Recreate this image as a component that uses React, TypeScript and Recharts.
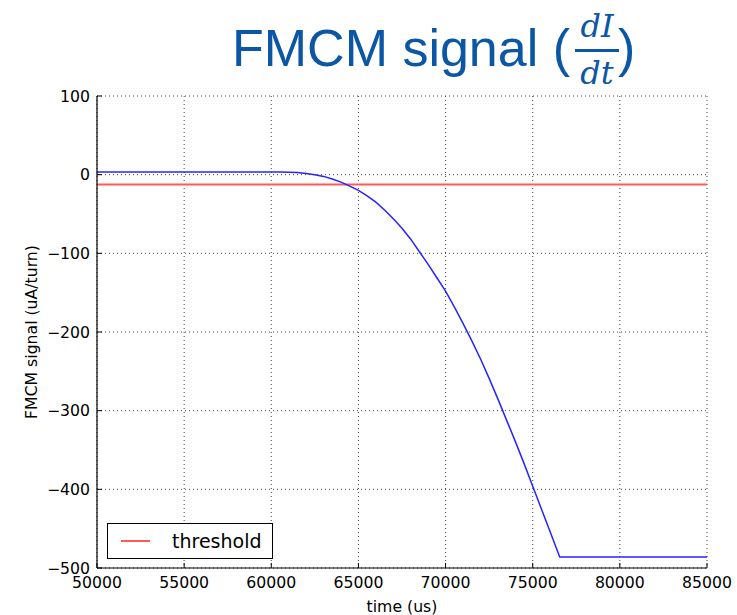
import React from 'react';
import { LineChart, Line, XAxis, YAxis, CartesianGrid, Legend } from 'recharts';

const times = [50000, 55000, 60000, 60500, 61000, 61500, 62000, 62500, 63000, 63500, 64000, 64500, 65000, 65500, 66000, 66500, 67000, 67500, 68000, 68500, 69000, 69500, 70000, 70500, 71000, 71500, 72000, 72500, 73000, 73500, 74000, 74500, 75000, 75500, 76000, 76550, 80000, 85000];
const signal = [3.5, 3.5, 3.5, 3.4, 3.1, 2.6, 1.6, 0, -2.2, -5.5, -9.5, -14.5, -20, -27, -35, -45, -56, -68, -82, -98, -114, -131, -148, -168, -189, -211, -234, -259, -285, -312, -339, -367, -396, -425, -454, -486, -486, -486];
const thresholdValue = -12.5;
const xTicks = [50000, 55000, 60000, 65000, 70000, 75000, 80000, 85000];
const yTicks = [-500, -400, -300, -200, -100, 0, 100];
const legendLabel = 'threshold';
const titleMain = 'FMCM signal (';
const titleNum = 'dI';
const titleDen = 'dt';
const xLabel = 'time (us)';
const yLabel = 'FMCM signal (uA/turn)';

const data = times.map((t, i) => ({ t, signal: signal[i], threshold: thresholdValue }));

const FONT = '"DejaVu Sans", sans-serif';
const fmt = (v: number) => String(v).replace('-', '\u2212');
const tickStyle = { fontFamily: FONT, fontSize: 15.7, fill: '#000' };
const TITLE_COLOR = '#0b57a6';

const LegendBox = () => (
  <div style={{ width: 164, height: 34, border: '1px solid #000', background: '#fff', display: 'flex', alignItems: 'center', boxSizing: 'content-box' }}>
    <svg width={64} height={34}>
      <line x1={13} x2={42} y1={17} y2={17} stroke="#ff5a5a" strokeWidth={2} />
    </svg>
    <span style={{ fontFamily: FONT, fontSize: 19, color: '#000', marginTop: -1 }}>{legendLabel}</span>
  </div>
);

export default function App() {
  return (
    <div style={{ position: 'absolute', left: 0, top: 0, width: 737, height: 615, background: '#fff' }}>
      <svg width={737} height={100} style={{ position: 'absolute', left: 0, top: 0 }}>
        <text x={232} y={66} fontFamily='"Liberation Sans", Arial, sans-serif' fontSize={52} fill={TITLE_COLOR}>{titleMain}</text>
        <text x={597} y={37} textAnchor="middle" fontFamily='"DejaVu Serif", serif' fontStyle="italic" fontSize={32} fill={TITLE_COLOR}>{titleNum}</text>
        <line x1={575} x2={619} y1={50.5} y2={50.5} stroke={TITLE_COLOR} strokeWidth={3} />
        <text x={597} y={84} textAnchor="middle" fontFamily='"DejaVu Serif", serif' fontStyle="italic" fontSize={32} fill={TITLE_COLOR}>{titleDen}</text>
        <text x={618} y={66} fontFamily='"Liberation Sans", Arial, sans-serif' fontSize={52} fill={TITLE_COLOR}>)</text>
      </svg>
      <LineChart width={737} height={615} data={data} margin={{ top: 96, right: 30, bottom: 0, left: 0 }}>
        <CartesianGrid stroke="#444" strokeDasharray="1 3" strokeWidth={1} />
        <XAxis
          dataKey="t"
          type="number"
          domain={[50000, 85000]}
          ticks={xTicks}
          height={47}
          tickSize={-5}
          tickMargin={13.5}
          tick={tickStyle}
          stroke="#000"
          axisLine={{ stroke: '#000', strokeWidth: 1.2 }}
          tickLine={{ stroke: '#000' }}
          interval={0}
          label={{ value: xLabel, position: 'insideBottom', offset: 3, style: { fontFamily: FONT, fontSize: 15.7, fill: '#000' } }}
        />
        <XAxis xAxisId="top" orientation="top" type="number" dataKey="t" domain={[50000, 85000]} ticks={xTicks} height={0} tick={false} tickSize={-5} axisLine={{ stroke: '#000', strokeWidth: 1.2 }} tickLine={{ stroke: '#000' }} interval={0} />
        <YAxis
          type="number"
          domain={[-500, 100]}
          ticks={yTicks}
          width={97}
          tickSize={-5}
          tickMargin={12}
          tick={tickStyle}
          tickFormatter={fmt}
          axisLine={{ stroke: '#000', strokeWidth: 1.2 }}
          tickLine={{ stroke: '#000' }}
          interval={0}
          label={{ value: yLabel, angle: -90, position: 'insideLeft', offset: 31, style: { textAnchor: 'middle', fontFamily: FONT, fontSize: 15.7, fill: '#000' } }}
        />
        <YAxis yAxisId="right" orientation="right" type="number" domain={[-500, 100]} ticks={yTicks} width={0} tick={false} tickSize={-5} axisLine={{ stroke: '#000', strokeWidth: 1.2 }} tickLine={{ stroke: '#000' }} interval={0} />
        <Line dataKey="threshold" stroke="#ff5a5a" strokeWidth={2} dot={false} isAnimationActive={false} type="linear" />
        <Line dataKey="signal" stroke="#2424ff" strokeWidth={1.5} dot={false} isAnimationActive={false} type="linear" />
        <Legend layout="vertical" align="center" verticalAlign="middle" content={() => <LegendBox />} wrapperStyle={{ left: 107, top: 523, width: 166, height: 36 }} />
      </LineChart>
    </div>
  );
}
